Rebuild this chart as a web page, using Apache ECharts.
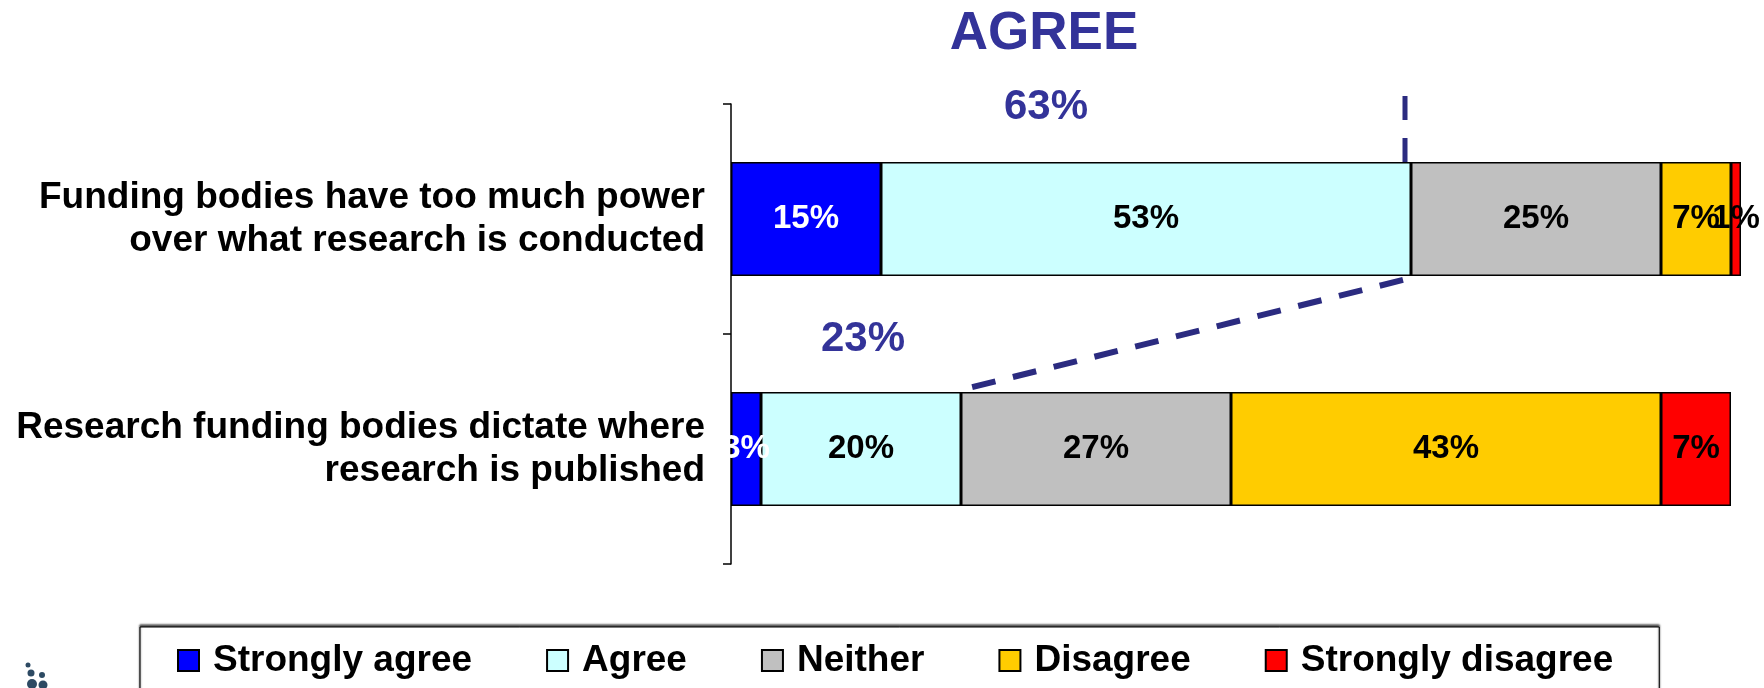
<!DOCTYPE html>
<html>
<head>
<meta charset="utf-8">
<script src="https://cdn.jsdelivr.net/npm/echarts@6/dist/echarts.min.js"></script>
<style>
html, body { margin: 0; padding: 0; background: #fff; }
#chart_panel { width: 1764px; height: 688px; }
</style>
</head>
<body>
<div id="chart_panel"></div>
<script>
var categories = [
	'Funding bodies have too much power\nover what research is conducted',
	'Research funding bodies dictate where\nresearch is published'
];
var seriesNames = ['Strongly agree', 'Agree', 'Neither', 'Disagree', 'Strongly disagree'];
var strongAgree = [15, 3];
var agree = [53, 20];
var neither = [25, 27];
var disagree = [7, 43];
var strongDisagree = [1, 7];
var seriesColors = ['#0000FF', '#CCFFFF', '#C0C0C0', '#FFCC00', '#FF0000'];
var labelColors = ['#FFFFFF', '#000000', '#000000', '#000000', '#000000'];

// dashed guide lines (x = cumulative %, y = position on hidden 0..2 axis)
var agreeLineTop = [[67.4, -0.035], [67.4, 0.255]];
var agreeLineDiag = [[67.2, 0.765], [23.3, 1.24]];

var FONT = 'Liberation Sans, Arial, sans-serif';
var myChart = echarts.init(document.getElementById('chart_panel'));

function getBarSeries() {
	var values = [strongAgree, agree, neither, disagree, strongDisagree];
	var series = [];
	for (var i = 0; i < values.length; i++) {
		series.push({
			name: seriesNames[i],
			type: 'bar',
			stack: 'total',
			barWidth: 114,
			data: values[i],
			itemStyle: { color: seriesColors[i], borderColor: '#000', borderWidth: 1.5 },
			label: {
				show: true,
				position: 'inside',
				formatter: '{c}%',
				color: labelColors[i],
				fontFamily: FONT,
				fontWeight: 'bold',
				fontSize: 33
			}
		});
	}
	return series;
}

function dashLine(data, width) {
	return {
		type: 'line',
		xAxisIndex: 0,
		yAxisIndex: 1,
		data: data,
		symbol: 'none',
		clip: false,
		silent: true,
		lineStyle: { color: '#2B2B80', width: width, type: [24, 18] },
		z: 5
	};
}

var series = getBarSeries();
series.push(dashLine(agreeLineTop, 5));
series.push(dashLine(agreeLineDiag, 6));

// small logo dots, bottom left
var logoDots = [[28, 665, 2.5], [31, 673, 3.5], [42, 675, 3], [32, 684, 5], [43, 685, 4.5]];
var graphics = [
	{ type: 'text', x: 1044, y: 34, style: { text: 'AGREE', fill: '#333399', font: 'bold 53px ' + FONT, textAlign: 'center', textVerticalAlign: 'middle' } },
	{ type: 'text', x: 1046, y: 107, style: { text: '63%', fill: '#333399', font: 'bold 42px ' + FONT, textAlign: 'center', textVerticalAlign: 'middle' } },
	{ type: 'text', x: 863, y: 339, style: { text: '23%', fill: '#333399', font: 'bold 42px ' + FONT, textAlign: 'center', textVerticalAlign: 'middle' } }
];
for (var d = 0; d < logoDots.length; d++) {
	graphics.push({ type: 'circle', shape: { cx: logoDots[d][0], cy: logoDots[d][1], r: logoDots[d][2] }, style: { fill: '#2D4A63' } });
}

var option = {
	animation: false,
	backgroundColor: '#fff',
	grid: { left: 731, right: 23, top: 104, bottom: 124 },
	xAxis: [{
		type: 'value',
		min: 0,
		max: 101,
		show: false
	}],
	yAxis: [
		{
			type: 'category',
			data: categories,
			inverse: true,
			axisLine: { show: true, lineStyle: { color: '#000', width: 1.5 } },
			axisTick: { show: true, length: 8, lineStyle: { color: '#000', width: 1.5 } },
			axisLabel: {
				margin: 26,
				color: '#000',
				fontFamily: FONT,
				fontWeight: 'bold',
				fontSize: 37,
				lineHeight: 43,
				align: 'right'
			}
		},
		{
			type: 'value',
			min: 0,
			max: 2,
			inverse: true,
			show: false
		}
	],
	legend: {
		data: seriesNames,
		left: 140,
		top: 627,
		padding: [15, 46, 40, 37],
		itemGap: 74,
		itemWidth: 21,
		itemHeight: 21,
		icon: 'rect',
		borderColor: '#000',
		borderWidth: 1,
		backgroundColor: '#fff',
		shadowColor: 'rgba(0,0,0,0.7)',
		shadowBlur: 2,
		shadowOffsetY: -2,
		textStyle: {
			color: '#000',
			fontFamily: FONT,
			fontWeight: 'bold',
			fontSize: 37,
			padding: [0, 0, 0, 9]
		}
	},
	graphic: graphics,
	series: series
};

myChart.setOption(option);
window.onresize = myChart.resize;
</script>
</body>
</html>
